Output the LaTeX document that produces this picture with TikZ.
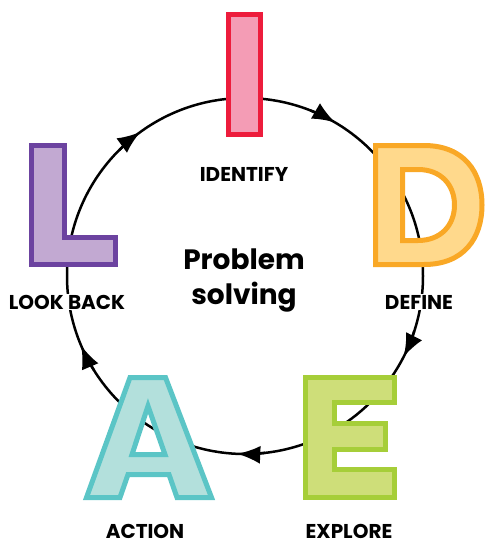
\documentclass[tikz,border=0pt]{standalone}
\usepackage{fontspec}
\setmainfont{Poppins}
\usetikzlibrary{arrows.meta}
\definecolor{idfill}{HTML}{F49CB5}
\definecolor{idline}{HTML}{ED1C3C}
\definecolor{dffill}{HTML}{FFD98C}
\definecolor{dfline}{HTML}{F9A826}
\definecolor{exfill}{HTML}{CEDE79}
\definecolor{exline}{HTML}{A6CE39}
\definecolor{acfill}{HTML}{B3E0DC}
\definecolor{acline}{HTML}{5BC5C6}
\definecolor{lbfill}{HTML}{C2A9D2}
\definecolor{lbline}{HTML}{6C43A0}
\tikzset{
  letter/.style={line width=5pt, line join=miter, even odd rule},
  lbl/.style={font=\bfseries\fontsize{20}{22}\selectfont, fill=white, inner xsep=2pt, inner ysep=1pt},
  cycletip/.style={-{Latex[length=23pt,width=18pt]}}
}
\begin{document}
\begin{tikzpicture}[x=1pt, y=-1pt, line width=2.5pt]
	\useasboundingbox (0,0) rectangle (485,544);
	% cycle
	\coordinate (o) at (245,276);
	\draw (o) circle[radius=178];
	\foreach \a in {-59.5, 27, 92.5, 157, 234}
	  \draw[cycletip] ([shift={(\a-9:178)}]o) arc[start angle=\a-9, end angle=\a, radius=178];
	% I
	\draw[letter, draw=idline, fill=idfill] (228.5,14.5) rectangle (260.5,134.5);
	% D
	\draw[letter, draw=dfline, fill=dffill]
	  (375.5,145.5) -- (424,145.5) .. controls (464,145.5) and (482,172) .. (482,205)
	  .. controls (482,238) and (464,264.5) .. (424,264.5) -- (375.5,264.5) -- cycle
	  (402.5,169.5) -- (418,169.5) .. controls (441,169.5) and (454.5,185) .. (454.5,205)
	  .. controls (454.5,225) and (441,240.5) .. (418,240.5) -- (402.5,240.5) -- cycle;
	% E
	\draw[letter, draw=exline, fill=exfill]
	  (305.5,377.5) -- (394.5,377.5) -- (394.5,402.5) -- (334.5,402.5) -- (334.5,423.5)
	  -- (385.5,423.5) -- (385.5,449.5) -- (334.5,449.5) -- (334.5,469.5) -- (394.5,469.5)
	  -- (394.5,497.5) -- (305.5,497.5) -- cycle;
	% A
	\draw[letter, draw=acline, fill=acfill]
	  (130,377.5) -- (165.5,377.5) -- (211.5,497.5) -- (177,497.5) -- (169,474.5)
	  -- (128,474.5) -- (120,497.5) -- (86.5,497.5) -- cycle
	  (148,406) -- (165,454.5) -- (132,454.5) -- cycle;
	% L
	\draw[letter, draw=lbline, fill=lbfill]
	  (31.5,145.5) -- (64.5,145.5) -- (64.5,237.5) -- (115.5,237.5) -- (115.5,264.5)
	  -- (31.5,264.5) -- cycle;
	% labels
	\node[lbl] (identify) at (244,174) {IDENTIFY};
	\node[lbl] (define) at (419,302) {DEFINE};
	\node[lbl] (explore) at (349,531) {EXPLORE};
	\node[lbl] (action) at (145,531) {ACTION};
	\node[lbl] (lookback) at (67,302) {LOOK BACK};
	\node[align=center, font=\bfseries\fontsize{28}{35}\selectfont] (title) at (244,280) {Problem\\solving};
\end{tikzpicture}
\end{document}
